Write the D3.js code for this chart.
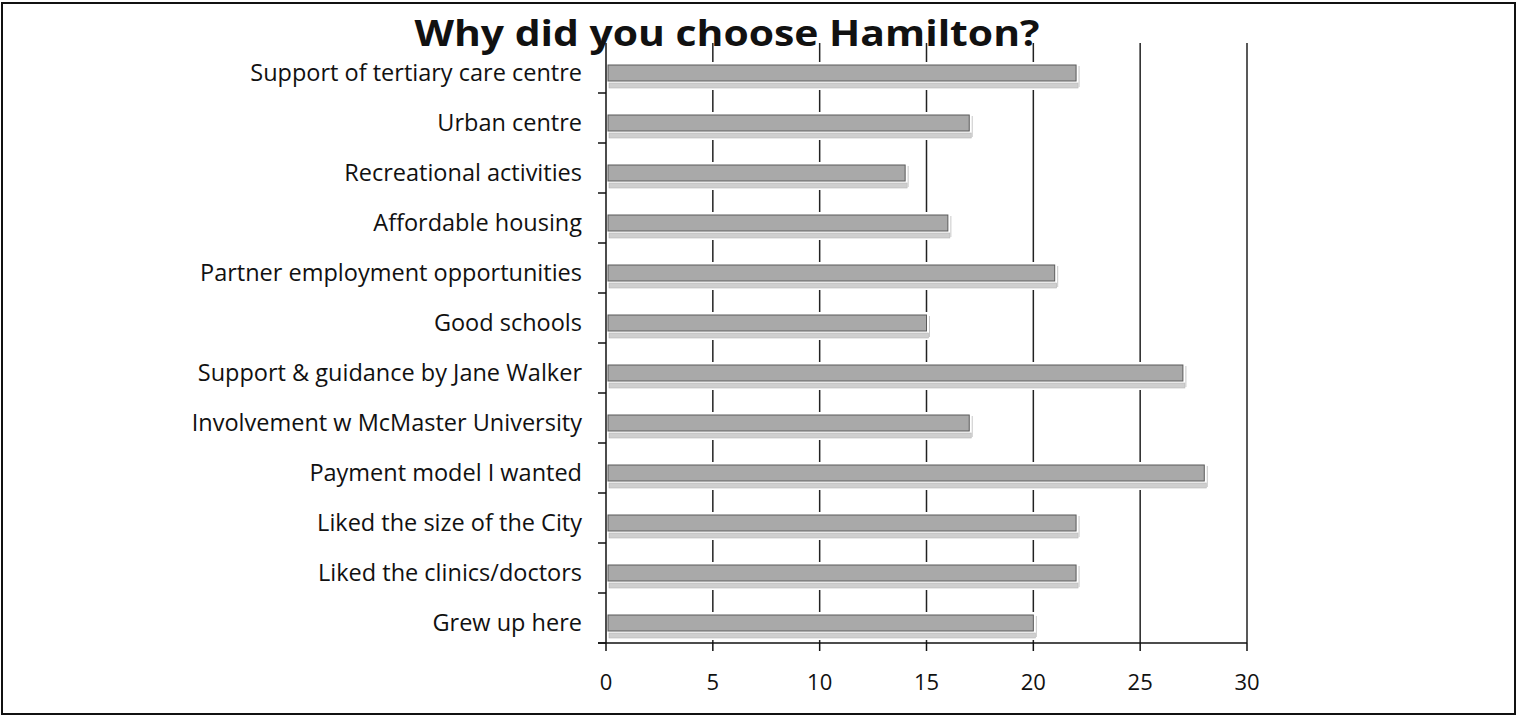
<!DOCTYPE html>
<html lang="en">
<head>
<meta charset="utf-8">
<title>Why did you choose Hamilton?</title>
<script src="https://d3js.org/d3.v7.min.js" charset="utf-8"></script>
<style>
  body { margin: 0; background: #fff; }
  text { font-family: "Open Sans", "Lato", sans-serif; fill: #111; }
</style>
</head>
<body>
<svg id="content" width="1518" height="717"></svg>
<script>
// reasons, top to bottom
var categories = [
  "Support of tertiary care centre",
  "Urban centre",
  "Recreational activities",
  "Affordable housing",
  "Partner employment opportunities",
  "Good schools",
  "Support & guidance by Jane Walker",
  "Involvement w McMaster University",
  "Payment model I wanted",
  "Liked the size of the City",
  "Liked the clinics/doctors",
  "Grew up here"
];
var counts = [22, 17, 14, 16, 21, 15, 27, 17, 28, 22, 22, 20];
var xTicks = [0, 5, 10, 15, 20, 25, 30];
var title = "Why did you choose Hamilton?";

var svg = d3.select("#content");
var plotLeft = 606, plotRight = 1247, plotTop = 43, plotBottom = 643;

var x = d3.scaleLinear().domain([0, 30]).range([plotLeft, plotRight]);
var y = d3.scaleBand().domain(categories).range([plotTop, plotBottom]);

// outer frame
svg.append("rect")
  .attr("x", 2).attr("y", 3).attr("width", 1513).attr("height", 711)
  .attr("fill", "none").attr("stroke", "#111").attr("stroke-width", 2);

// gridlines
svg.append("g").selectAll("line")
  .data(xTicks.slice(1))
  .enter().append("line")
  .attr("x1", function(d){ return x(d); }).attr("x2", function(d){ return x(d); })
  .attr("y1", plotTop).attr("y2", plotBottom)
  .attr("stroke", "#222").attr("stroke-width", 1.5);

// bars (3d look: front face + lighter underside)
var bars = svg.append("g").selectAll("g")
  .data(categories)
  .enter().append("g");

bars.append("rect")
  .attr("x", x(0) + 2)
  .attr("y", function(d){ return y(d) + 19; })
  .attr("width", function(d, i){ return x(counts[i]) - x(0) + 3; })
  .attr("height", 28)
  .attr("fill", "#fff");

bars.append("rect")
  .attr("x", x(0) + 3)
  .attr("y", function(d){ return y(d) + 40; })
  .attr("width", function(d, i){ return x(counts[i]) - x(0) - 1; })
  .attr("height", 5)
  .attr("fill", "#cfcfcf")
  .attr("stroke", "#b5b5b5").attr("stroke-width", 0.6);

bars.append("rect")
  .attr("x", x(0) + 2)
  .attr("y", function(d){ return y(d) + 22; })
  .attr("width", function(d, i){ return x(counts[i]) - x(0) - 2; })
  .attr("height", 16)
  .attr("fill", "#a9a9a9")
  .attr("stroke", "#5a5a5a").attr("stroke-width", 1);

bars.append("line")
  .attr("x1", function(d, i){ return x(counts[i]) + 3; })
  .attr("x2", function(d, i){ return x(counts[i]) + 3; })
  .attr("y1", function(d){ return y(d) + 23; })
  .attr("y2", function(d){ return y(d) + 44; })
  .attr("stroke", "#c8c8c8").attr("stroke-width", 1);

// y axis
var yAxis = svg.append("g");
yAxis.append("line")
  .attr("x1", plotLeft).attr("x2", plotLeft).attr("y1", plotTop).attr("y2", plotBottom)
  .attr("stroke", "#111").attr("stroke-width", 1.5);
yAxis.selectAll(".ytick")
  .data(categories)
  .enter().append("line")
  .attr("class", "ytick")
  .attr("x1", plotLeft - 8).attr("x2", plotLeft)
  .attr("y1", function(d){ return y(d) + y.step(); })
  .attr("y2", function(d){ return y(d) + y.step(); })
  .attr("stroke", "#111").attr("stroke-width", 1.5);
yAxis.selectAll("text")
  .data(categories)
  .enter().append("text")
  .attr("x", 582)
  .attr("y", function(d){ return y(d) + 38; })
  .attr("text-anchor", "end")
  .style("font-size", "23.5px")
  .text(function(d){ return d; });

// x axis
var xAxis = svg.append("g");
xAxis.append("line")
  .attr("x1", plotLeft - 8).attr("x2", plotRight).attr("y1", plotBottom).attr("y2", plotBottom)
  .attr("stroke", "#111").attr("stroke-width", 1.5);
xAxis.selectAll(".xtick")
  .data(xTicks)
  .enter().append("line")
  .attr("class", "xtick")
  .attr("x1", function(d){ return x(d); }).attr("x2", function(d){ return x(d); })
  .attr("y1", plotBottom).attr("y2", plotBottom + 8)
  .attr("stroke", "#111").attr("stroke-width", 1.5);
xAxis.selectAll("text")
  .data(xTicks)
  .enter().append("text")
  .attr("x", function(d){ return x(d); })
  .attr("y", 690)
  .attr("text-anchor", "middle")
  .style("font-size", "22px")
  .text(function(d){ return d; });

// title
svg.append("text")
  .attr("x", 727).attr("y", 46)
  .attr("text-anchor", "middle")
  .attr("textLength", 625).attr("lengthAdjust", "spacingAndGlyphs")
  .style("font-size", "35px").style("font-weight", "bold")
  .text(title);
</script>
</body>
</html>
